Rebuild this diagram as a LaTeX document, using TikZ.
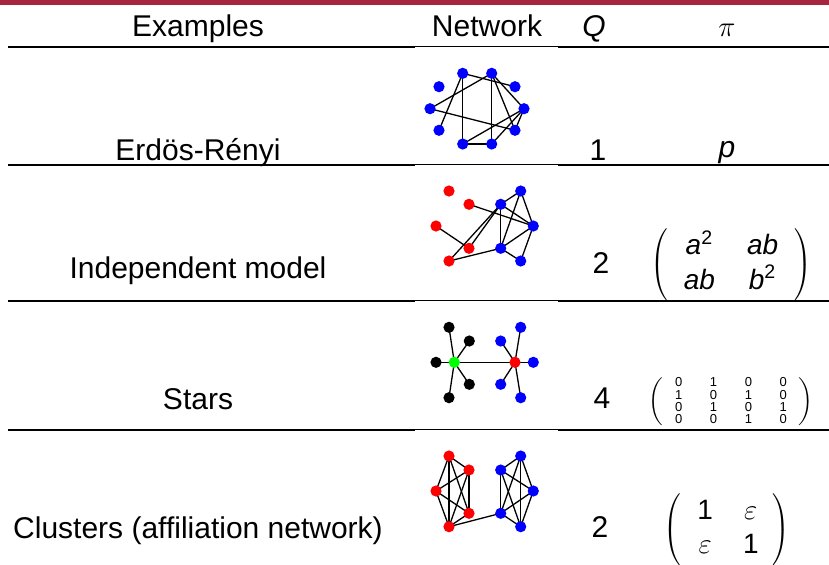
\documentclass[tikz,border=0pt]{standalone}
\usepackage{fontspec}
\setmainfont{Liberation Sans}
\usepackage{tkz-euclide}
\definecolor{BarClr}{rgb}{0.65,0.15,0.25}
\definecolor{NodeBlue}{rgb}{0,0,1}
\definecolor{NodeRed}{rgb}{1,0,0}
\definecolor{NodeGreen}{rgb}{0,1,0}

\begin{document}
\begin{tikzpicture}[x=0.5pt,y=-0.5pt,
  txt/.style={font=\fontsize{15}{18}\selectfont,inner sep=0pt,anchor=base},
  mtx/.style={font=\fontsize{14}{17}\selectfont,inner sep=0pt},
  thickrule/.style={line width=1pt},
  thinrule/.style={line width=0.5pt}]
\useasboundingbox (0,0) rectangle (829,564);
\tkzSetUpLine[line width=0.65pt,color=black]

% top bar and rules
\fill[BarClr] (0,0) rectangle (829,5);
\foreach \y in {47,165,301,430}{
  \draw[thickrule] (8,\y) -- (415,\y);
  \draw[thinrule] (415,\y-0.6) -- (558,\y-0.6);
  \draw[thickrule] (558,\y) -- (829,\y);}

% header
\node[txt] (hEx) at (198,36) {Examples};
\node[txt] (hNet) at (487,36) {Network};
\node[txt] (hQ) at (594,36) {\textit{Q}};
\node[txt] (hPi) at (727,36) {$\pi$};

% Erdos-Renyi
\node[txt] (eER) at (198,160) {Erd\"os-R\'enyi};
\node[txt] (qER) at (598,160) {1};
\node[txt] (pER) at (727,157) {\textit{p}};

\tkzDefPoints{462.7/73.3/e1,491.7/73.3/e2,439/86.7/e3,515/86.7/e4,430/108.7/e5,
  524/108.7/e6,439/130.3/e7,515/130.3/e8,462.7/144/e9,491.7/144/e10}
\tkzDrawSegments(e1,e9 e1,e7 e1,e4 e2,e5 e2,e10 e2,e6 e2,e8 e5,e8 e6,e9 e6,e10 e6,e8)
\tkzDrawSegment[line width=1.3pt](e9,e10)
\foreach \i in {1,...,10} \fill[NodeBlue] (e\i) circle (2.8pt);

% Independent model
\node[txt] (eIM) at (198,278) {Independent model};
\node[txt] (qIM) at (601,273) {2};
\node[mtx] (pIM) at (731,265) {$\left(\hspace{8pt}\vcenter{\hbox{\setlength\tabcolsep{8pt}%
  \begin{tabular}{@{}cc@{}}\textit{a}\textsuperscript{2} & \textit{ab}\\
  \textit{ab} & \textit{b}\textsuperscript{2}\end{tabular}}}\hspace{8pt}\right)$};

\tkzDefPoints{449/191/i1,469/204.3/i2,436/226/i3,469/248.3/i4,449/261/i5,
  520.7/191/i6,500.7/204.3/i7,533.3/226/i8,500.7/248.3/i9,520.7/261/i10}
\tkzDrawSegments(i2,i8 i3,i4 i4,i7 i5,i7 i5,i9 i6,i7 i6,i8 i6,i9 i7,i8 i7,i9 i8,i9 i8,i10 i9,i10)
\foreach \i in {1,...,5} \fill[NodeRed] (i\i) circle (2.8pt);
\foreach \i in {6,...,10} \fill[NodeBlue] (i\i) circle (2.8pt);

% Stars
\node[txt] (eST) at (198,409) {Stars};
\node[txt] (qST) at (602,408) {4};
\node[mtx] (pST) at (731,402) {$\left(\hspace{6pt}\vcenter{\hbox{\fontsize{6.5}{5}\selectfont
  \setlength\tabcolsep{6.9pt}\begin{tabular}{@{}cccc@{}}0&1&0&0\\1&0&1&0\\0&1&0&1\\0&0&1&0\end{tabular}}}\hspace{6pt}\right)$};

\tkzDefPoints{449/327.3/s1,469.3/341/s2,436/362.3/s3,469.3/384.3/s4,449/397.7/s5,454.3/362.3/s6,
  520.7/327.3/s7,500.7/341/s8,533.3/362.3/s9,500.7/384.3/s10,520.7/397.7/s11,515/362.3/s12}
\tkzDrawSegments(s6,s1 s6,s2 s6,s3 s6,s4 s6,s5 s12,s7 s12,s8 s12,s9 s12,s10 s12,s11 s6,s12)
\foreach \i in {1,...,5} \fill[black] (s\i) circle (2.8pt);
\foreach \i in {7,...,11} \fill[NodeBlue] (s\i) circle (2.8pt);
\fill[NodeGreen] (s6) circle (2.8pt);
\fill[NodeRed] (s12) circle (2.8pt);

% Clusters
\node[txt] (eCL) at (198,538) {Clusters (affiliation network)};
\node[txt] (qCL) at (600,537) {2};
\node[mtx] (pCL) at (727,530) {$\left(\hspace{8pt}\vcenter{\hbox{\setlength\tabcolsep{7.5pt}%
  \begin{tabular}{@{}cc@{}}1 & $\varepsilon$\\ $\varepsilon$ & 1\end{tabular}}}\hspace{7pt}\right)$};

\tkzDefPoints{449/456/c1,469/470/c2,436/491/c3,469/513.3/c4,449/526.7/c5,
  520.7/456/c6,500.7/470/c7,533.3/491/c8,500.7/513.3/c9,520.7/526.7/c10}
\tkzDrawSegments(c1,c2 c1,c3 c1,c4 c1,c5 c2,c3 c2,c4 c2,c5 c3,c4 c3,c5 c4,c5)
\tkzDrawSegments(c6,c7 c6,c8 c6,c9 c6,c10 c7,c8 c7,c9 c7,c10 c8,c9 c8,c10 c9,c10)
\tkzDrawSegment(c5,c9)
\foreach \i in {1,...,5} \fill[NodeRed] (c\i) circle (2.8pt);
\foreach \i in {6,...,10} \fill[NodeBlue] (c\i) circle (2.8pt);

\end{tikzpicture}
\end{document}
